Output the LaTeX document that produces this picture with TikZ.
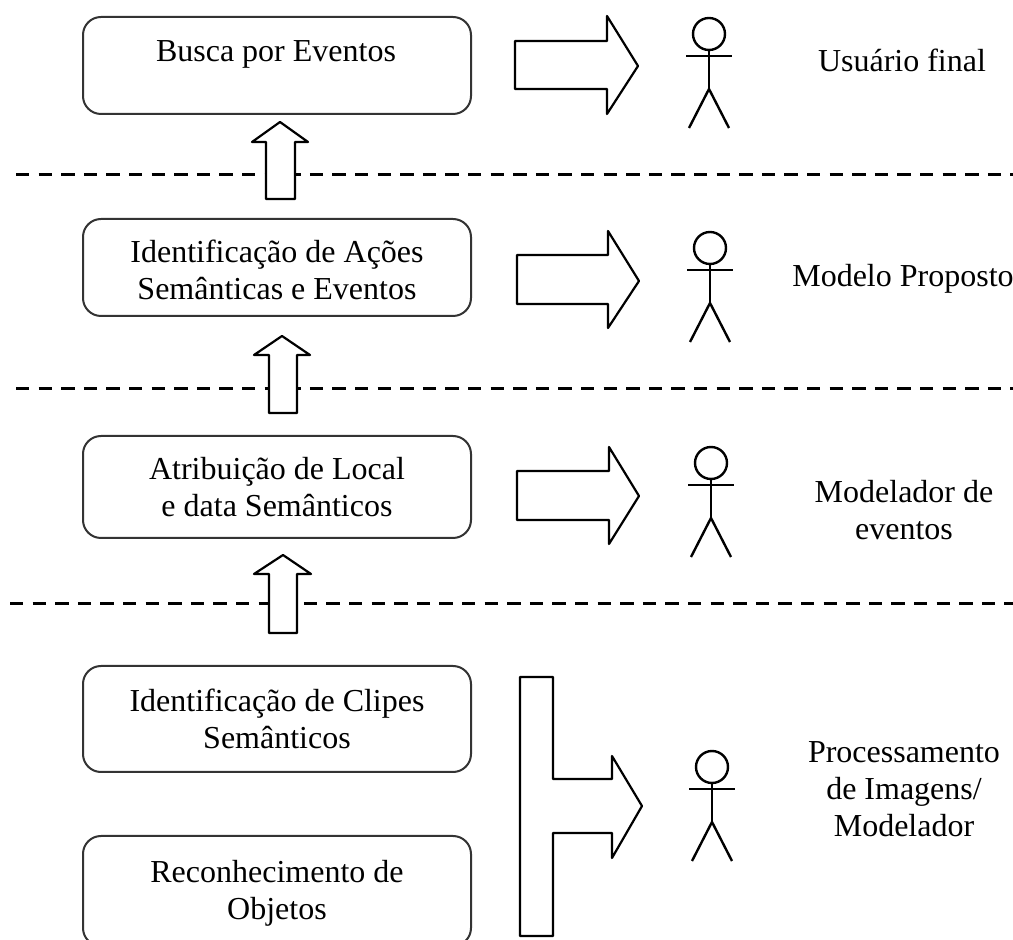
\documentclass[tikz,border=0pt]{standalone}
\usepackage{fontspec}
\setmainfont{Liberation Serif}
\usetikzlibrary{arrows.meta, positioning}
\tikzset{
  stagebox/.style={draw=black!80, rounded corners=9pt, line width=1pt, minimum width=194pt, align=center, font=\fontsize{16}{18.5}\selectfont},
  rolelabel/.style={align=center, font=\fontsize{16}{18.5}\selectfont},
  blockarrow/.style={draw, line width=1.1pt, line join=round, fill=white},
  levelline/.style={line width=1.5pt, dash pattern=on 6.7pt off 4.6pt},
  stickline/.style={line width=1.2pt}
}
% one stick figure: head centre at #1,#2
\newcommand{\stickman}[2]{
  \draw [stickline] (#1,#2) circle (8pt);
  \draw [stickline] (#1,#2+16) -- (#1,#2+55);
  \draw [stickline] (#1-23,#2+22) -- (#1+23,#2+22);
  \draw [stickline] (#1-20,#2+94) -- (#1,#2+55) -- (#1+20,#2+94);
}
\begin{document}
\begin{tikzpicture}[x=0.5pt, y=-0.5pt, >= Stealth]
  \useasboundingbox (0,0) rectangle (1013,940);
  % levels
  \coordinate (l1a) at (16,175);  \coordinate (l1b) at (1013,175);
  \coordinate (l2a) at (16,389);  \coordinate (l2b) at (1013,389);
  \coordinate (l3a) at (10,604);  \coordinate (l3b) at (1013,604);
  \draw [levelline] (l1a) -- (l1b);
  \draw [levelline] (l2a) -- (l2b);
  \draw [levelline] (l3a) -- (l3b);
  % boxes
  \node [stagebox, minimum height=48.5pt] (busca) at (277,65.5) {};
  \node [rolelabel, anchor=base] (buscatext) at (276,62) {Busca por Eventos};
  \node [stagebox, minimum height=48.5pt] (acoes) at (277,267.5) {\rule{0pt}{14pt}Identificação de Ações\\Semânticas e Eventos};
  \node [stagebox, minimum height=51pt] (local) at (277,487) {Atribuição de Local\\e data Semânticos};
  \node [stagebox, minimum height=53pt] (clipes) at (277,719) {Identificação de Clipes\\Semânticos};
  \begin{scope}
    \clip (0,0) rectangle (1013,940);
    \node [stagebox, minimum height=55pt] (objetos) at (277,891) {\rule{0pt}{13pt}Reconhecimento de\\Objetos};
  \end{scope}
  % up arrows
  \draw [blockarrow] (266,199) -- (266,142) -- (252,142) -- (280,122) -- (308,142) -- (295,142) -- (295,199) -- cycle;
  \draw [blockarrow] (269,413) -- (269,355) -- (254,355) -- (282,336) -- (310,355) -- (297,355) -- (297,413) -- cycle;
  \draw [blockarrow] (269,633) -- (269,574) -- (254,574) -- (283,555) -- (311,574) -- (297,574) -- (297,633) -- cycle;
  % right arrows
  \draw [blockarrow] (515,41) -- (607,41) -- (607,16) -- (638,66) -- (607,114) -- (607,89) -- (515,89) -- cycle;
  \draw [blockarrow] (517,255) -- (608,255) -- (608,231) -- (639,281) -- (608,328) -- (608,304) -- (517,304) -- cycle;
  \draw [blockarrow] (517,471) -- (609,471) -- (609,447) -- (639,496) -- (609,544) -- (609,520) -- (517,520) -- cycle;
  \draw [blockarrow] (520,677) -- (553,677) -- (553,779) -- (612,779) -- (612,756) -- (642,806) -- (612,858) -- (612,833) -- (553,833) -- (553,936) -- (520,936) -- cycle;
  % actors
  \stickman{709}{34}
  \stickman{710}{248}
  \stickman{711}{463}
  \stickman{712}{767}
  % labels
  \node [rolelabel, anchor=base] (final) at (902,72) {Usuário final};
  \node [rolelabel, anchor=base] (proposto) at (903,287) {Modelo Proposto};
  \node [rolelabel] (modelador) at (904,510.5) {Modelador de\\eventos};
  \node [rolelabel] (imagens) at (904,789) {Processamento\\de Imagens/\\Modelador};
\end{tikzpicture}
\end{document}
